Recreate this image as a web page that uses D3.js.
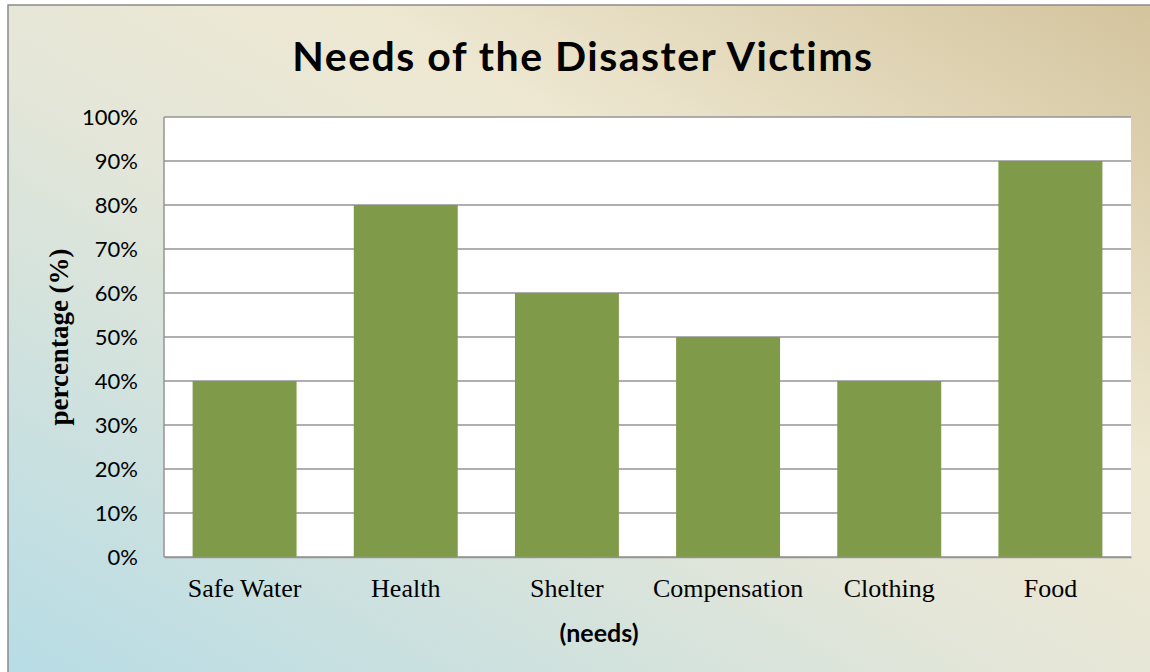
<!DOCTYPE html>
<html>
<head>
<meta charset="utf-8">
<script src="https://cdn.jsdelivr.net/npm/d3@7"></script>
<style>
  body { margin: 0; background: #fff; }
</style>
</head>
<body>
<div id="container"></div>
<script>
// chart data
var categories = ["Safe Water", "Health", "Shelter", "Compensation", "Clothing", "Food"];
var values = [0.40, 0.80, 0.60, 0.50, 0.40, 0.90];
var yTicks = [0, 0.1, 0.2, 0.3, 0.4, 0.5, 0.6, 0.7, 0.8, 0.9, 1.0];

var W = 1150, H = 672;
var margin = {top: 117, right: 19, bottom: 115, left: 164};
var width = W - margin.left - margin.right;
var height = H - margin.top - margin.bottom;

var svg = d3.select("#container").append("svg")
    .attr("width", W)
    .attr("height", H);

// background gradient (blue bottom-left -> cream -> tan top-right)
var defs = svg.append("defs");
var grad = defs.append("linearGradient")
    .attr("id", "bg")
    .attr("x1", "0%").attr("y1", "100%")
    .attr("x2", "100%").attr("y2", "0%");
grad.append("stop").attr("offset", "0%").attr("stop-color", "#b6dce6");
grad.append("stop").attr("offset", "45%").attr("stop-color", "#e4e6d8");
grad.append("stop").attr("offset", "65%").attr("stop-color", "#eee8d2");
grad.append("stop").attr("offset", "100%").attr("stop-color", "#d3c39c");

svg.append("rect")
    .attr("x", 8).attr("y", 5)
    .attr("width", W + 10).attr("height", H + 10)
    .attr("fill", "url(#bg)")
    .attr("stroke", "#8a8a8a")
    .attr("stroke-width", 1.5);

var g = svg.append("g")
    .attr("transform", "translate(" + margin.left + "," + margin.top + ")");

// plot area
g.append("rect")
    .attr("x", 0).attr("y", 0)
    .attr("width", width).attr("height", height)
    .attr("fill", "#fff");

var x = d3.scaleBand().domain(categories).range([0, width]).paddingInner(0.355).paddingOuter(0.1775);
var y = d3.scaleLinear().domain([0, 1]).range([height, 0]);

// gridlines
g.append("g")
    .selectAll("line")
    .data(yTicks)
    .enter().append("line")
    .attr("x1", 0).attr("x2", width)
    .attr("y1", function(d) { return y(d); })
    .attr("y2", function(d) { return y(d); })
    .attr("stroke", "#959595")
    .attr("stroke-width", 1.5);

// bars
g.append("g")
    .selectAll("rect")
    .data(values)
    .enter().append("rect")
    .attr("x", function(d, i) { return x(categories[i]); })
    .attr("y", function(d) { return y(d); })
    .attr("width", x.bandwidth())
    .attr("height", function(d) { return height - y(d); })
    .attr("fill", "#7f9a48");

// y axis line
g.append("line")
    .attr("x1", 0).attr("x2", 0)
    .attr("y1", 0).attr("y2", height)
    .attr("stroke", "#959595")
    .attr("stroke-width", 1.5);

// y axis labels
var yAxis = g.append("g")
    .call(d3.axisLeft(y).tickValues(yTicks).tickSize(0).tickPadding(26).tickFormat(d3.format(".0%")));
yAxis.select(".domain").remove();
yAxis.selectAll("text")
    .attr("fill", "#000")
    .style("font-family", "Lato, 'Open Sans', sans-serif")
    .style("font-size", "22px");

// x axis labels
var xAxis = g.append("g")
    .attr("transform", "translate(0," + height + ")")
    .call(d3.axisBottom(x).tickSize(0));
xAxis.select(".domain")
    .attr("stroke", "#959595")
    .attr("stroke-width", 1.5);
xAxis.selectAll("text")
    .attr("y", 40)
    .attr("dy", 0)
    .attr("fill", "#000")
    .style("font-family", "'Liberation Serif', 'Times New Roman', serif")
    .style("font-size", "26px");

// title
svg.append("text")
    .attr("x", 583)
    .attr("y", 71)
    .attr("text-anchor", "middle")
    .style("font-family", "Lato, 'Open Sans', sans-serif")
    .style("font-weight", "bold")
    .style("font-size", "41px")
    .style("letter-spacing", "1.5px")
    .text("Needs of the Disaster Victims");

// x axis title
svg.append("text")
    .attr("x", 599)
    .attr("y", 642)
    .attr("text-anchor", "middle")
    .style("font-family", "Lato, 'Open Sans', sans-serif")
    .style("font-weight", "bold")
    .style("font-size", "25px")
    .text("(needs)");

// y axis title
svg.append("text")
    .attr("transform", "translate(68," + (margin.top + height / 2) + ") rotate(-90)")
    .attr("text-anchor", "middle")
    .style("font-family", "'Liberation Serif', 'Times New Roman', serif")
    .style("font-weight", "bold")
    .style("font-size", "27px")
    .text("percentage (%)");
</script>
</body>
</html>
